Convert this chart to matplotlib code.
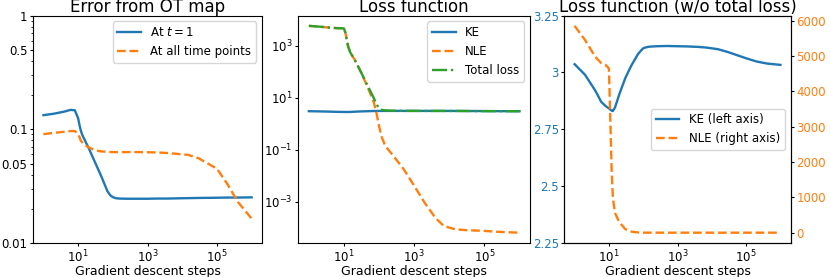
import numpy as np
import matplotlib
matplotlib.use('Agg')
import matplotlib.pyplot as plt
from matplotlib.ticker import NullFormatter, NullLocator

# gradient descent step at which each value was read
steps = [1, 2, 4, 6, 8, 10, 11, 12, 13, 15, 20, 30, 45, 70, 85, 100, 120, 150,
         250, 500, 1e3, 2e3, 4e3, 7e3, 1.5e4, 3e4, 1e5, 2e5, 4e5, 1e6]

# error from OT map
err_t1 = [0.133, 0.137, 0.143, 0.148, 0.147, 0.125, 0.108, 0.097, 0.090, 0.082,
          0.0686, 0.052, 0.0395, 0.0285, 0.0262, 0.0253, 0.0248, 0.0246,
          0.0245, 0.0245, 0.0245, 0.0246, 0.0246, 0.0247, 0.0248, 0.0249,
          0.0250, 0.0251, 0.0251, 0.0252]
err_all = [0.0906, 0.093, 0.095, 0.0965, 0.0965, 0.091, 0.085, 0.079, 0.077, 0.073,
           0.0695, 0.0655, 0.064, 0.0632, 0.0631, 0.063, 0.063, 0.063,
           0.063, 0.063, 0.0628, 0.0625, 0.0618, 0.0608, 0.0595, 0.0555,
           0.045, 0.033, 0.023, 0.0164]

# loss terms
ke = [3.036, 2.99, 2.92, 2.87, 2.852, 2.842, 2.836, 2.832, 2.83, 2.845,
      2.903, 2.975, 3.03, 3.08, 3.095, 3.106, 3.11, 3.113,
      3.115, 3.116, 3.115, 3.114, 3.112, 3.109, 3.102, 3.089,
      3.062, 3.048, 3.039, 3.033]
nle = [5857, 5460, 4980, 4800, 4750, 4650, 3200, 1800, 1000, 560,
       300, 100, 30, 7, 2.5, 0.8, 0.3, 0.14,
       0.06, 0.018, 0.0041, 0.0009, 0.00024, 0.000115, 8.6e-5, 8.0e-5,
       7.5e-5, 7.0e-5, 6.7e-5, 6.4e-5]

ke_ticks = [2.25, 2.5, 2.75, 3, 3.25]
ke_ticklabels = ['2.25', '2.5', '2.75', '3', '3.25']
loss_ticks = [1e-3, 1e-1, 1e1, 1e3]

steps = np.array(steps)
ke = np.array(ke)
nle = np.array(nle)
total = ke + nle

plt.rcParams['font.size'] = 8.5
plt.rcParams['xtick.major.size'] = 2.5
plt.rcParams['ytick.major.size'] = 2.5
plt.rcParams['xtick.minor.size'] = 1.5
plt.rcParams['ytick.minor.size'] = 1.5
plt.rcParams['xtick.major.pad'] = 1.5
plt.rcParams['ytick.major.pad'] = 1.5
plt.rcParams['xtick.minor.pad'] = 1.5
plt.rcParams['ytick.minor.pad'] = 1.5
plt.rcParams['axes.labelsize'] = 9

fig = plt.figure(figsize=(8.3, 2.77), dpi=100)
lw = 1.7
tsize = 12

ax1 = fig.add_axes([0.0398, 0.1227, 0.2759, 0.8213])
ax1.plot(steps, err_t1, '-', color='C0', lw=lw, label='At $t=1$')
ax1.plot(steps, err_all, '--', color='C1', lw=lw, label='At all time points')
ax1.set_xscale('log')
ax1.set_yscale('log')
ax1.set_ylim(0.01, 1)
ax1.set_yticks([0.01, 0.05, 0.1, 0.5, 1])
ax1.set_yticklabels(['0.01', '0.05', '0.1', '0.5', '1'])
ax1.yaxis.set_minor_formatter(NullFormatter())
ax1.set_title('Error from OT map', fontsize=tsize, pad=1.5)
ax1.set_xlabel('Gradient descent steps', labelpad=0)
ax1.legend(loc='upper right')

ax2 = fig.add_axes([0.3594, 0.1227, 0.2792, 0.8213])
ax2.plot(steps, ke, '-', color='C0', lw=lw, label='KE')
ax2.plot(steps, nle, '--', color='C1', lw=lw, label='NLE')
ax2.plot(steps, total, '-.', color='C2', lw=lw, label='Total loss')
ax2.set_xscale('log')
ax2.set_yscale('log')
ax2.set_yticks(loss_ticks)
ax2.yaxis.set_minor_locator(NullLocator())
ax2.set_title('Loss function', fontsize=tsize, pad=1.5)
ax2.set_xlabel('Gradient descent steps', labelpad=0)
ax2.legend(loc='upper right')

ax3 = fig.add_axes([0.6799, 0.1227, 0.2728, 0.8213])
l1, = ax3.plot(steps, ke, '-', color='C0', lw=lw, label='KE (left axis)')
ax3.set_xscale('log')
ax3.set_ylim(2.25, 3.25)
ax3.set_yticks(ke_ticks)
ax3.set_yticklabels(ke_ticklabels)
ax3.tick_params(axis='y', labelcolor='C0')
ax3r = ax3.twinx()
l2, = ax3r.plot(steps, nle, '--', color='C1', lw=lw, label='NLE (right axis)')
ax3r.tick_params(axis='y', labelcolor='C1')
ax3.set_title('Loss function (w/o total loss)', fontsize=tsize, pad=1.5)
ax3.set_xlabel('Gradient descent steps', labelpad=0)
ax3.legend([l1, l2], [l1.get_label(), l2.get_label()], loc='center right')

fig.savefig('out.png', dpi=100)
